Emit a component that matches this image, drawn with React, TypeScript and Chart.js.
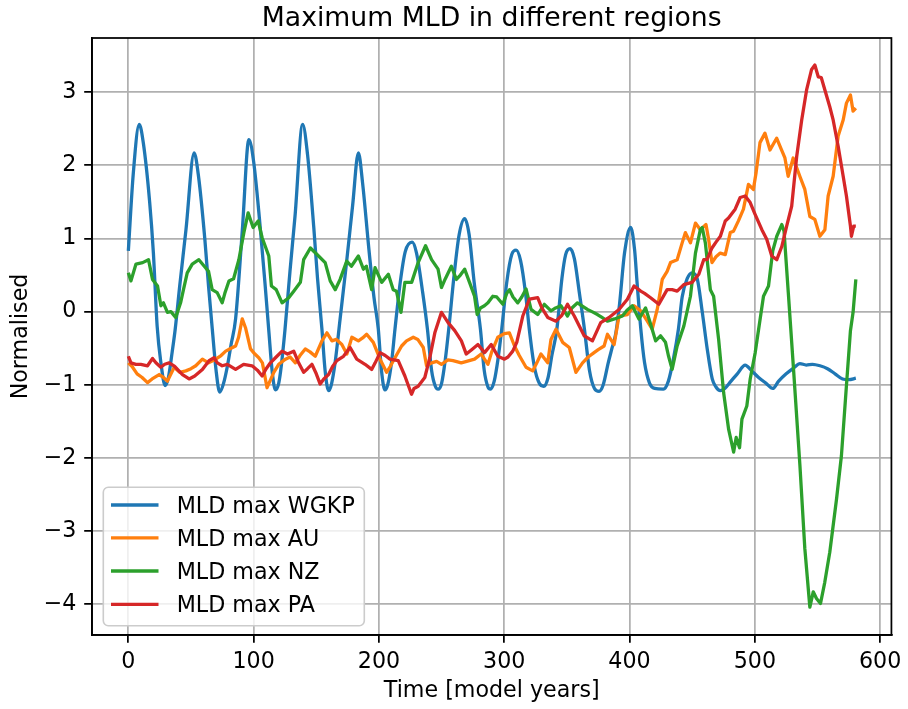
import React, { useEffect, useRef } from 'react';
import { Chart, registerables } from 'chart.js';

Chart.register(...registerables);

const chartTitle = 'Maximum MLD in different regions';
const xAxisLabel = 'Time [model years]';
const yAxisLabel = 'Normalised';
const seriesLabels = ['MLD max WGKP', 'MLD max AU', 'MLD max NZ', 'MLD max PA'];
const seriesColors = ['#1f77b4', '#ff7f0e', '#2ca02c', '#d62728'];
const xTickValues = [0, 100, 200, 300, 400, 500, 600];
const yTickValues = [-4, -3, -2, -1, 0, 1, 2, 3];

const wgkpYears = [0, 4, 8.7, 12, 17, 20, 23, 26, 29.4, 32, 35, 37.4, 41, 46, 52.5,
  56, 61, 64, 67, 70, 72.9, 76, 79, 82, 85.6, 91, 96.2,
  100, 105, 109, 112, 115, 117.4, 120, 122, 125, 129, 133, 139.1,
  143, 148, 151, 154.5, 157, 159.8, 162, 165, 169, 174, 179, 183.6,
  187, 192, 196, 199.5, 202, 204.8, 207, 210, 212.8, 217, 221, 226.5,
  230, 235, 238.7, 242, 245, 247.2, 250, 253, 255.7, 260, 264, 268.4,
  272, 276, 281, 284, 287, 289, 292, 295, 298, 302, 306, 309.5,
  313, 317, 320, 324, 328, 331.5, 335, 338, 342, 346, 349, 352.6,
  356, 360, 364, 368, 372, 375.7, 379, 383, 386, 389, 392, 396, 400.9,
  404, 406, 409, 412, 416, 420, 427, 431, 435, 439, 442, 446, 449.9,
  454, 458, 462, 466, 469, 472.4, 476, 481, 486, 492.3, 497, 503, 509, 514.3, 519, 525, 531, 536, 541, 546, 552, 558, 564, 570, 575, 580.6];
const wgkpValues = [0.83, 1.9, 2.56, 2.3, 1.5, 0.8, -0.2, -0.7, -1.01, -0.9, -0.55, -0.24, 0.35, 1.12, 2.17,
  1.85, 1.0, 0.35, -0.24, -0.8, -1.10, -0.98, -0.75, -0.45, -0.1, 1.12, 2.35,
  2.05, 1.2, 0.4, -0.24, -0.85, -1.07, -0.98, -0.75, -0.25, 0.55, 1.3, 2.56,
  2.15, 1.15, 0.45, -0.24, -0.8, -1.08, -1.0, -0.7, -0.1, 0.65, 1.45, 2.17,
  1.75, 0.85, 0.2, -0.24, -0.8, -1.07, -1.0, -0.7, -0.24, 0.4, 0.82, 0.95,
  0.8, 0.25, -0.24, -0.8, -1.02, -1.06, -0.98, -0.65, -0.24, 0.5, 1.05, 1.27,
  1.05, 0.4, -0.24, -0.8, -1.03, -1.06, -0.95, -0.65, -0.24, 0.4, 0.78, 0.84,
  0.7, 0.25, -0.24, -0.75, -0.98, -1.02, -0.9, -0.6, -0.24, 0.45, 0.78, 0.86,
  0.72, 0.25, -0.24, -0.8, -1.05, -1.09, -1.0, -0.7, -0.5, -0.3, 0.1, 0.8, 1.15,
  0.85, 0.4, -0.24, -0.7, -0.98, -1.05, -1.06, -0.95, -0.65, -0.24, 0.2, 0.45, 0.53,
  0.45, 0.0, -0.51, -0.92, -1.03, -1.08, -1.05, -0.95, -0.85, -0.73, -0.8, -0.9, -0.98, -1.05, -0.95, -0.85, -0.77, -0.71, -0.73, -0.72, -0.74, -0.78, -0.85, -0.92, -0.93, -0.91];

const auYears = [0, 3, 7, 11, 15.3, 19, 24.6, 28, 31.2, 36.6, 41, 45.9, 50, 53.8, 59.1, 64, 69.7, 74, 77.7, 82, 85.6, 88, 90.9, 93.5, 97.5, 101, 104.1, 107, 110.7, 113, 116.1, 120, 125.4, 129, 133.3, 137, 141.2, 145, 149.2, 154.5, 158.5, 162.5, 166, 170.4, 174.4, 178.4, 183.6, 187, 190.2, 195.5, 200.9, 206.1, 209, 212.8, 218.1, 222, 227.4, 231, 235.4, 238, 242, 246, 249.9, 255, 259.1, 265.7, 270, 276.3, 281.6, 287, 290, 294.9, 300, 304.1, 308.2, 312, 317.4, 322.7, 326, 329.3, 334.7, 337.3, 341.3, 346.6, 351.9, 357.2, 362.5, 367, 371.7, 375, 379.7, 382.4, 387.7, 391.6, 398.3, 403.6, 408.9, 414.2, 418.1, 422.1, 426.1, 430, 432.7, 438, 442, 444.6, 448.6, 452.6, 456.5, 461, 463, 465.8, 469, 472.4, 476.4, 480.4, 483, 486.9, 490.9, 494.9, 498.8, 501, 504.1, 508.1, 512.1, 517.4, 521.3, 524, 526.6, 530.6, 535.9, 539.9, 543.9, 547.9, 551.9, 555.9, 558.5, 562.5, 566.5, 570.5, 573.1, 576.3, 578.4, 580.6];
const auValues = [-0.70, -0.75, -0.85, -0.9, -0.97, -0.92, -0.86, -0.9, -0.95, -0.76, -0.83, -0.81, -0.78, -0.74, -0.65, -0.7, -0.65, -0.6, -0.54, -0.5, -0.47, -0.35, -0.10, -0.22, -0.51, -0.58, -0.63, -0.7, -1.04, -0.95, -0.83, -0.72, -0.65, -0.62, -0.70, -0.6, -0.51, -0.55, -0.61, -0.40, -0.29, -0.40, -0.38, -0.45, -0.58, -0.35, -0.40, -0.36, -0.31, -0.42, -0.65, -0.83, -0.75, -0.63, -0.47, -0.40, -0.35, -0.38, -0.49, -0.74, -0.70, -0.68, -0.72, -0.66, -0.67, -0.70, -0.68, -0.65, -0.58, -0.72, -0.55, -0.35, -0.3, -0.29, -0.47, -0.6, -0.76, -0.81, -0.7, -0.58, -0.70, -0.38, -0.24, -0.42, -0.49, -0.83, -0.70, -0.62, -0.56, -0.52, -0.47, -0.31, -0.45, -0.06, -0.04, 0.08, 0.01, -0.13, -0.24, 0.03, 0.44, 0.55, 0.67, 0.71, 0.94, 1.08, 0.94, 1.21, 1.12, 1.19, 1.0, 0.67, 0.75, 0.80, 0.78, 1.08, 1.1, 1.24, 1.40, 1.74, 1.67, 1.9, 2.31, 2.44, 2.21, 2.37, 2.21, 2.1, 1.85, 2.10, 1.85, 1.67, 1.30, 1.26, 1.03, 1.12, 1.58, 1.85, 2.40, 2.62, 2.85, 2.96, 2.74, 2.78];

const nzYears = [0, 2.1, 6.1, 11.4, 16.1, 19.3, 23.3, 26, 28, 31.2, 34, 37.8, 41.7, 44, 47, 51, 56.3, 61.6, 64, 66.9, 70.9, 74.9, 77, 80.3, 84, 88.2, 92.2, 95.6, 99.6, 103.6, 106.8, 112.1, 114.2, 118, 122.7, 128, 132, 137.3, 139.9, 145.3, 151.8, 157.1, 161.1, 165.1, 169, 174.3, 178, 183.6, 187.6, 190, 194.2, 196.9, 202.2, 207.5, 211.4, 214, 217.6, 220.7, 226.1, 231.3, 237.2, 242, 247.2, 249.9, 253, 257.8, 261.8, 265, 268.4, 272.3, 276.3, 278.4, 281, 284.2, 287, 290.9, 294, 298.9, 302, 304.2, 307, 310.8, 314, 317.4, 321.4, 326.7, 332, 337.3, 341, 345.2, 350.5, 354, 358.5, 362, 366.4, 370, 374.4, 378, 382.3, 388, 394.3, 398, 402.2, 407.5, 412.8, 416.8, 420.8, 424.7, 428.7, 431, 434, 438, 443.3, 448.6, 452.6, 456.5, 458, 460.5, 464.5, 467.1, 471.1, 475.1, 479.1, 483.1, 485.1, 487.8, 489.7, 493.6, 496.3, 500.3, 506.9, 510.9, 514.3, 517.5, 521.5, 523.3, 526.7, 530.7, 536, 539.9, 543.9, 546.6, 549.2, 552.4, 555.8, 559.8, 565.2, 569.1, 573.1, 576.3, 578.4, 580.6];
const nzValues = [0.53, 0.42, 0.65, 0.67, 0.71, 0.44, 0.35, 0.08, 0.12, -0.01, 0.0, -0.08, 0.12, 0.3, 0.53, 0.65, 0.71, 0.60, 0.55, 0.30, 0.26, 0.12, 0.25, 0.42, 0.45, 0.71, 1.08, 1.35, 1.15, 1.24, 1.01, 0.76, 0.35, 0.3, 0.12, 0.19, 0.28, 0.40, 0.71, 0.87, 0.76, 0.67, 0.42, 0.30, 0.44, 0.69, 0.62, 0.76, 0.58, 0.62, 0.30, 0.60, 0.40, 0.51, 0.30, 0.28, -0.01, 0.40, 0.40, 0.67, 0.90, 0.71, 0.58, 0.33, 0.45, 0.62, 0.44, 0.5, 0.58, 0.40, 0.21, -0.04, 0.05, 0.08, 0.12, 0.21, 0.2, 0.10, 0.25, 0.30, 0.2, 0.12, 0.2, 0.31, 0.03, -0.04, 0.10, 0.01, 0.05, 0.08, -0.06, 0.05, 0.12, 0.08, 0.03, 0.0, -0.04, -0.08, -0.13, -0.1, -0.06, 0.02, 0.08, -0.10, 0.05, -0.17, -0.40, -0.33, -0.42, -0.6, -0.79, -0.47, -0.20, 0.21, 0.80, 1.12, 1.15, 0.94, 0.30, 0.21, -0.38, -1.11, -1.61, -1.92, -1.72, -1.86, -1.47, -1.29, -0.92, -0.56, 0.21, 0.35, 0.83, 1.03, 1.19, 1.10, 0.26, -0.74, -2.11, -3.24, -4.04, -3.83, -3.92, -3.99, -3.70, -3.29, -2.56, -1.97, -1.01, -0.26, -0.01, 0.44];

const paYears = [0, 2.1, 6, 10, 15.3, 19.3, 22, 25.9, 29, 32.6, 37, 43.2, 48.5, 53, 59.1, 64.4, 68.4, 71, 74.9, 79, 85.6, 92, 98.8, 103, 106.8, 110, 113.4, 118, 122.7, 127, 132, 135.9, 139.9, 143, 146.5, 150, 153.1, 156, 159.8, 163, 166.4, 171.7, 177, 182.3, 188.9, 194.2, 197, 200.9, 205, 208.8, 215.4, 220.7, 226, 228, 231.3, 236.6, 240.6, 244.6, 249.9, 255.2, 260.5, 265.8, 269.7, 274, 279, 284.3, 289.6, 294.9, 300.2, 303, 306.8, 310, 314.8, 320.1, 326.7, 330, 334.7, 341.3, 346, 350.5, 355.9, 360, 363.8, 370.4, 377, 383.7, 391.6, 398.3, 403.6, 408.9, 412, 416.8, 423.4, 430, 434, 438, 443.3, 449.9, 455.3, 459.2, 461.8, 465.8, 469, 472.5, 476.4, 479, 484.3, 488.3, 492.3, 496.3, 500.2, 505.6, 509.5, 513.5, 517.5, 521.5, 525.4, 529.4, 533.4, 537.4, 541.3, 545.3, 547.9, 550.6, 553, 555.9, 559.8, 562.5, 566.5, 570.5, 573.1, 576.3, 577.1, 578.9, 580.6];
const paValues = [-0.61, -0.70, -0.72, -0.72, -0.74, -0.64, -0.7, -0.76, -0.72, -0.70, -0.75, -0.86, -0.92, -0.88, -0.79, -0.67, -0.63, -0.7, -0.74, -0.72, -0.79, -0.72, -0.74, -0.8, -0.88, -0.78, -0.70, -0.62, -0.54, -0.58, -0.54, -0.70, -0.83, -0.78, -0.72, -0.85, -0.99, -0.92, -0.86, -0.75, -0.67, -0.61, -0.49, -0.65, -0.72, -0.79, -0.7, -0.56, -0.6, -0.65, -0.67, -0.88, -1.13, -1.05, -1.02, -0.90, -0.63, -0.29, -0.01, -0.15, -0.26, -0.40, -0.58, -0.52, -0.45, -0.56, -0.45, -0.61, -0.65, -0.62, -0.54, -0.42, -0.06, 0.17, 0.19, 0.05, -0.08, -0.13, -0.05, 0.10, -0.06, -0.2, -0.33, -0.40, -0.15, -0.08, 0.03, 0.17, 0.35, 0.28, 0.25, 0.19, 0.10, 0.30, 0.3, 0.28, 0.37, 0.40, 0.51, 0.71, 0.71, 0.87, 0.95, 1.03, 1.24, 1.28, 1.40, 1.56, 1.58, 1.49, 1.33, 1.12, 0.99, 0.76, 0.71, 0.89, 1.17, 1.44, 2.12, 2.62, 3.03, 3.31, 3.37, 3.21, 3.2, 3.03, 2.80, 2.62, 2.26, 1.85, 1.58, 1.17, 1.03, 1.17, 1.17];

const seriesYears = [wgkpYears, auYears, nzYears, paYears];
const seriesValues = [wgkpValues, auValues, nzValues, paValues];

const FONT = 'DejaVu Sans';
const TICK_SIZE = 22.2;
const TITLE_SIZE = 26.7;
const LINE_W = 3.3;
const GRID_W = 1.75;
const TICK_LEN = 7.8;

const fmt = (v: number) => (v < 0 ? '\u2212' + Math.abs(v) : String(v));

const decorPlugin = {
  id: 'decor',
  afterDraw(chart: any) {
    const { ctx, chartArea } = chart;
    const { left, top, right, bottom } = chartArea;
    ctx.save();
    // frame
    ctx.strokeStyle = '#000';
    ctx.lineWidth = GRID_W;
    ctx.strokeRect(left, top, right - left, bottom - top);
    // title
    ctx.fillStyle = '#000';
    ctx.font = `${TITLE_SIZE}px "${FONT}"`;
    ctx.textAlign = 'center';
    ctx.textBaseline = 'alphabetic';
    ctx.fillText(chartTitle, (left + right) / 2, 25.5);
    // legend
    const bx = 103.3, by = 487.3, bw = 261, bh = 138.4, r = 5;
    ctx.beginPath();
    ctx.moveTo(bx + r, by);
    ctx.lineTo(bx + bw - r, by);
    ctx.arcTo(bx + bw, by, bx + bw, by + r, r);
    ctx.lineTo(bx + bw, by + bh - r);
    ctx.arcTo(bx + bw, by + bh, bx + bw - r, by + bh, r);
    ctx.lineTo(bx + r, by + bh);
    ctx.arcTo(bx, by + bh, bx, by + bh - r, r);
    ctx.lineTo(bx, by + r);
    ctx.arcTo(bx, by, bx + r, by, r);
    ctx.closePath();
    ctx.fillStyle = 'rgba(255,255,255,0.8)';
    ctx.fill();
    ctx.strokeStyle = '#cccccc';
    ctx.lineWidth = 1.6;
    ctx.stroke();
    const rows = [505, 537.8, 571, 604.3];
    ctx.font = `${TICK_SIZE}px "${FONT}"`;
    ctx.textAlign = 'left';
    ctx.textBaseline = 'alphabetic';
    seriesLabels.forEach((lab, i) => {
      ctx.strokeStyle = seriesColors[i];
      ctx.lineWidth = LINE_W;
      ctx.lineCap = 'butt';
      ctx.beginPath();
      ctx.moveTo(111, rows[i]);
      ctx.lineTo(158.5, rows[i]);
      ctx.stroke();
      ctx.fillStyle = '#000';
      ctx.fillText(lab, 176.7, rows[i] + 8.1);
    });
    ctx.restore();
  },
};

export default function App() {
  const ref = useRef<HTMLCanvasElement | null>(null);
  useEffect(() => {
    if (!ref.current) return;
    const datasets = seriesLabels.map((label, i) => ({
      label,
      data: seriesYears[i].map((x, j) => ({ x, y: seriesValues[i][j] })),
      borderColor: seriesColors[i],
      backgroundColor: seriesColors[i],
      borderWidth: LINE_W,
      pointRadius: 0,
      pointHoverRadius: 0,
      fill: false,
      tension: 0,
      cubicInterpolationMode: i === 0 ? 'monotone' : 'default',
      borderJoinStyle: 'round',
      borderCapStyle: 'butt',
      order: 4 - i,
    }));
    const chart = new Chart(ref.current, {
      type: 'line',
      data: { datasets } as any,
      options: {
        responsive: false,
        animation: false,
        devicePixelRatio: 1,
        layout: { padding: { top: 38, right: 13, left: 0, bottom: 0 } },
        plugins: { legend: { display: false }, tooltip: { enabled: false }, title: { display: false } },
        scales: {
          x: {
            type: 'linear',
            min: -29,
            max: 609,
            afterBuildTicks: (s: any) => { s.ticks = xTickValues.map((v) => ({ value: v })); },
            afterFit: (s: any) => { s.height = 74; },
            ticks: { autoSkip: false, maxRotation: 0, padding: 6.5, color: '#000', font: { family: FONT, size: TICK_SIZE }, callback: (v: any) => fmt(Number(v)) },
            grid: { color: '#b0b0b0', lineWidth: GRID_W, tickColor: '#000', tickWidth: GRID_W, tickLength: TICK_LEN },
            border: { display: true, color: '#000', width: GRID_W },
            title: { display: true, text: xAxisLabel, color: '#000', font: { family: FONT, size: TICK_SIZE }, padding: { top: 0, bottom: 4.7 } },
          },
          y: {
            type: 'linear',
            min: -4.42,
            max: 3.74,
            afterBuildTicks: (s: any) => { s.ticks = yTickValues.map((v) => ({ value: v })); },
            afterFit: (s: any) => { s.width = 92; },
            ticks: { autoSkip: false, padding: 7.8, color: '#000', font: { family: FONT, size: TICK_SIZE }, callback: (v: any) => fmt(Number(v)) },
            grid: { color: '#b0b0b0', lineWidth: GRID_W, tickColor: '#000', tickWidth: GRID_W, tickLength: TICK_LEN },
            border: { display: true, color: '#000', width: GRID_W },
            title: { display: true, text: yAxisLabel, color: '#000', font: { family: FONT, size: TICK_SIZE }, padding: { top: 8.4, bottom: 0 } },
          },
        },
      } as any,
      plugins: [decorPlugin],
    });
    return () => chart.destroy();
  }, []);
  return (
    <div style={{ position: 'absolute', left: 0, top: 0, width: 908, height: 709, background: '#fff' }}>
      <canvas ref={ref} width={908} height={709} style={{ display: 'block', width: 908, height: 709 }} />
    </div>
  );
}
